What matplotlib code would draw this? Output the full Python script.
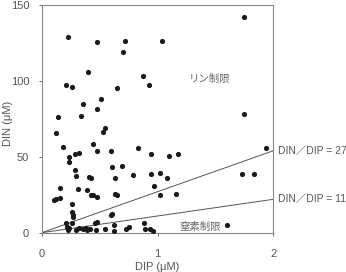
import matplotlib
matplotlib.use("Agg")
import matplotlib.pyplot as plt
import numpy as np

plt.rcParams['font.family'] = ['Liberation Sans', 'Noto Sans CJK JP', 'DejaVu Sans']

# DIP (uM) and DIN (uM)
dip = [0.23, 0.48, 0.72, 1.04, 0.70, 1.75, 0.40, 0.21, 0.26, 0.875,
       0.93, 0.65, 0.36, 0.51, 0.48, 0.144, 0.34, 0.124, 0.55, 0.53,
       1.75, 0.18, 0.446, 0.48, 0.60, 0.83, 0.94, 0.32, 0.29, 0.24,
       0.24, 1.10, 1.18, 1.94, 0.29, 0.30, 0.61, 0.69, 0.41, 0.43,
       0.63, 0.79, 0.94, 1.02, 1.08, 1.73, 1.83, 0.31, 0.39, 0.16,
       0.11, 0.124, 0.16, 0.97, 0.636, 0.65, 0.43, 0.446, 0.475, 1.02,
       1.16, 0.265, 0.26, 0.27, 0.27, 0.60, 0.61, 0.21, 0.26, 0.46,
       0.475, 0.216, 0.23, 0.24, 0.30, 0.325, 0.36, 0.39, 0.42, 0.38,
       0.47, 0.55, 0.62, 0.62, 0.73, 0.75, 0.886, 0.89, 0.935, 0.96,
       1.60]
din = [128.7, 125.4, 126.3, 126.5, 118.8, 141.9, 106.1, 97.1, 96.0, 103.4,
       97.5, 95.1, 84.6, 87.9, 81.5, 76.4, 76.7, 65.7, 69.2, 66.1,
       78.0, 56.4, 58.2, 53.6, 53.6, 55.8, 52.1, 52.5, 51.6, 50.1,
       46.6, 50.7, 51.6, 56.0, 41.1, 37.6, 43.5, 44.1, 36.5, 36.0,
       36.0, 38.0, 38.4, 39.1, 36.0, 38.4, 38.9, 29.0, 27.9, 29.4,
       21.5, 22.4, 22.6, 30.5, 25.3, 24.6, 24.8, 24.6, 23.7, 25.0,
       25.7, 19.1, 13.4, 11.9, 10.1, 11.9, 12.5, 6.6, 6.1, 6.6,
       7.2, 3.5, 1.8, 2.9, 1.8, 2.9, 2.2, 1.8, 2.2, 3.3,
       1.8, 2.2, 1.1, 4.8, 2.6, 3.5, 6.6, 2.2, 2.2, 1.3,
       5.1]

ratios = [27, 11]
line_x = [0, 2]
x_ticks = [0, 1, 2]
y_ticks = [0, 50, 100, 150]

fig = plt.figure(figsize=(3.46, 2.72), dpi=100)
ax = fig.add_axes([0.1205, 0.1445, 0.6695, 0.837])

# data points
ax.scatter(dip, din, s=14, color='#1a1a1a', zorder=3, linewidths=0)

# N/P ratio lines
for r in ratios:
    ax.plot(line_x, [r * v for v in line_x], color='#555555', lw=0.7, zorder=2)
    ax.text(2.04, r * line_x[1], f"DIN／DIP = {r}", fontsize=7.5, color='#555555',
            va='center', ha='left', clip_on=False)

ax.text(1.45, 101, "リン制限", fontsize=7.5, color='#666666', ha='center', va='center')
ax.text(1.37, 3.5, "窒素制限", fontsize=7.5, color='#666666', ha='center', va='center')

ax.set_xlim(0, 2)
ax.set_ylim(0, 150)
ax.set_xticks(x_ticks)
ax.set_yticks(y_ticks)
ax.tick_params(labelsize=8, colors='#555555', length=2, width=0.6)
ax.tick_params(axis='x', pad=10)
ax.tick_params(axis='y', pad=7)
for s in ax.spines.values():
    s.set_color('#888888')
    s.set_linewidth(0.8)

fig.text(157 / 346, 1 - 267 / 272, "DIP (μM)", fontsize=8, color='#555555',
         ha='center', va='center')
fig.text(8 / 346, 1 - 123 / 272, "DIN (μM)", fontsize=8, color='#555555',
         ha='center', va='center', rotation=90)

fig.savefig("out.png", dpi=100)
